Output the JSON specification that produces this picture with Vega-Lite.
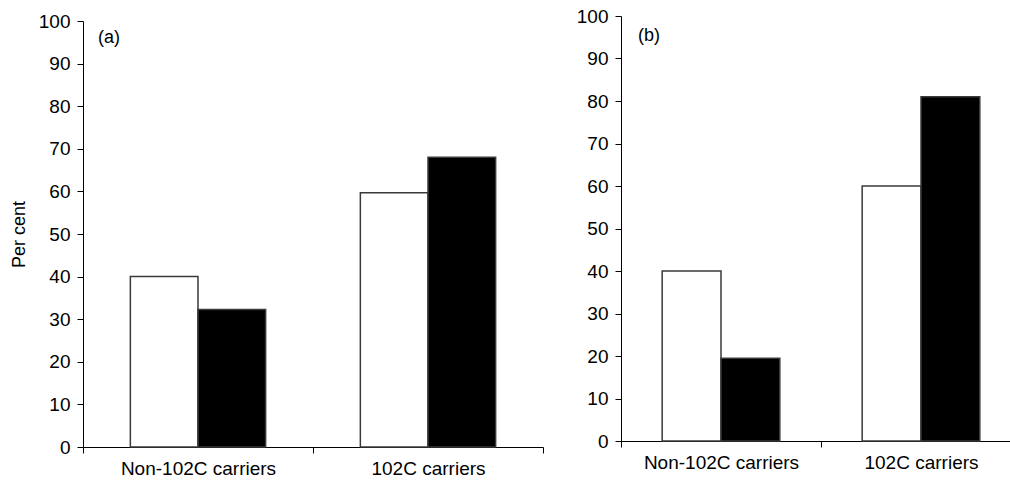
{
  "$schema": "https://vega.github.io/schema/vega-lite/v6.json",
  "background": "white",
  "padding": {"left": 10, "top": 7, "right": 0, "bottom": 0},
  "config": {
    "font": "Liberation Sans",
    "view": {"stroke": null},
    "axis": {
      "domainColor": "black", "tickColor": "black", "labelColor": "black",
      "titleColor": "black", "grid": false, "labelFontSize": 19, "tickSize": 6,
      "titleFontWeight": "normal", "titleFontSize": 18
    }
  },
  "datasets": {
    "bars": [
      {"panel": "a", "group": "Non-102C carriers", "series": "1", "value": 40.0},
      {"panel": "a", "group": "Non-102C carriers", "series": "2", "value": 32.3},
      {"panel": "a", "group": "102C carriers", "series": "1", "value": 59.7},
      {"panel": "a", "group": "102C carriers", "series": "2", "value": 68.0},
      {"panel": "b", "group": "Non-102C carriers", "series": "1", "value": 40.0},
      {"panel": "b", "group": "Non-102C carriers", "series": "2", "value": 19.5},
      {"panel": "b", "group": "102C carriers", "series": "1", "value": 60.0},
      {"panel": "b", "group": "102C carriers", "series": "2", "value": 81.0}
    ]
  },
  "spacing": 32,
  "resolve": {"scale": {"x": "independent", "xOffset": "independent", "y": "independent"}},
  "hconcat": [
    {
      "width": 460, "height": 431,
      "layer": [
        {
          "data": {"name": "bars"},
          "transform": [{"filter": "datum.panel === 'a'"}],
          "mark": {"type": "bar", "stroke": "#3a3a3a", "strokeWidth": 1.5},
          "encoding": {
            "x": {"field": "group", "type": "nominal", "sort": ["Non-102C carriers", "102C carriers"],
                  "scale": {"paddingInner": 0, "paddingOuter": 0},
                  "axis": {"title": null, "labelAngle": 0, "tickBand": "extent", "labelPadding": 6}},
            "xOffset": {"field": "series", "type": "nominal", "scale": {"paddingOuter": 0.7, "paddingInner": 0}},
            "y": {"field": "value", "type": "quantitative", "scale": {"domain": [0, 100], "range": [431, 5]},
                  "axis": {"title": "Per cent", "values": [0,10,20,30,40,50,60,70,80,90,100], "labelPadding": 7, "titlePadding": 10}},
            "fill": {"field": "series", "type": "nominal", "scale": {"domain": ["1", "2"], "range": ["white", "black"]}, "legend": null}
          }
        },
        {
          "data": {"values": [{"lab": "(a)"}]},
          "mark": {"type": "text", "align": "left", "baseline": "middle", "fontSize": 18, "dx": 15, "dy": 17, "color": "black"},
          "encoding": {
            "x": {"datum": "Non-102C carriers", "type": "nominal", "bandPosition": 0},
            "y": {"datum": 100, "type": "quantitative"},
            "text": {"field": "lab"}
          }
        }
      ]
    },
    {
      "width": 400, "height": 425,
      "layer": [
        {
          "data": {"name": "bars"},
          "transform": [{"filter": "datum.panel === 'b'"}],
          "mark": {"type": "bar", "stroke": "#3a3a3a", "strokeWidth": 1.5},
          "encoding": {
            "x": {"field": "group", "type": "nominal", "sort": ["Non-102C carriers", "102C carriers"],
                  "scale": {"paddingInner": 0, "paddingOuter": 0},
                  "axis": {"title": null, "labelAngle": 0, "tickBand": "extent", "labelPadding": 6}},
            "xOffset": {"field": "series", "type": "nominal", "scale": {"paddingOuter": 0.7, "paddingInner": 0}},
            "y": {"field": "value", "type": "quantitative", "scale": {"domain": [0, 100]},
                  "axis": {"title": null, "values": [0,10,20,30,40,50,60,70,80,90,100], "labelPadding": 7}},
            "fill": {"field": "series", "type": "nominal", "scale": {"domain": ["1", "2"], "range": ["white", "black"]}, "legend": null}
          }
        },
        {
          "data": {"values": [{"lab": "(b)"}]},
          "mark": {"type": "text", "align": "left", "baseline": "middle", "fontSize": 18, "dx": 17, "dy": 20, "color": "black"},
          "encoding": {
            "x": {"datum": "Non-102C carriers", "type": "nominal", "bandPosition": 0},
            "y": {"datum": 100, "type": "quantitative"},
            "text": {"field": "lab"}
          }
        }
      ]
    }
  ]
}
